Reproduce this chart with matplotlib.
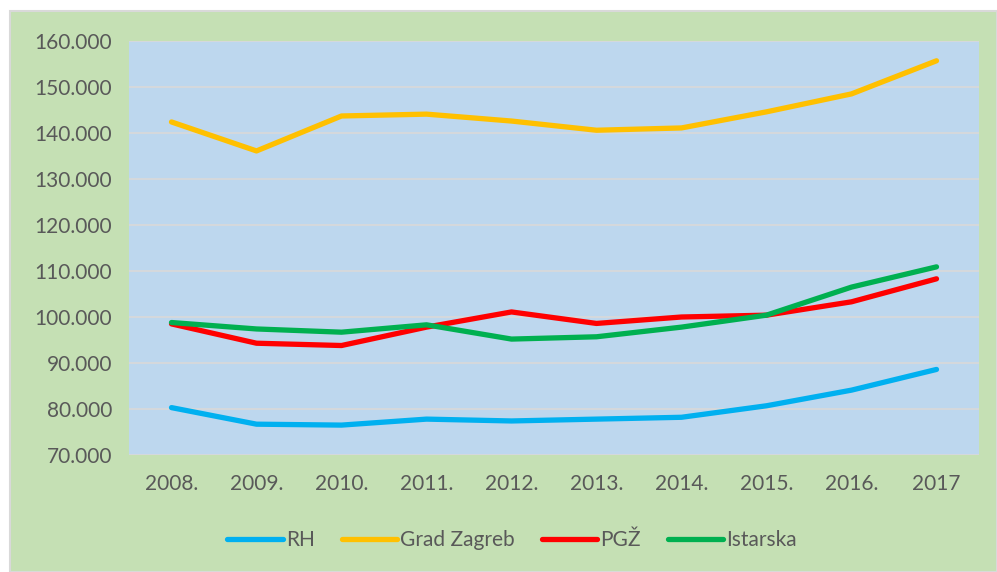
import numpy as np
import matplotlib.pyplot as plt
from matplotlib.patches import Rectangle

years = ['2008.', '2009.', '2010.', '2011.', '2012.', '2013.', '2014.', '2015.', '2016.', '2017']
rh = [80300, 76700, 76500, 77800, 77400, 77800, 78200, 80700, 84100, 88600]
zagreb = [142400, 136100, 143700, 144100, 142600, 140600, 141100, 144600, 148500, 155700]
pgz = [98500, 94300, 93800, 97800, 101100, 98600, 100000, 100400, 103300, 108300]
istarska = [98800, 97400, 96700, 98300, 95200, 95700, 97800, 100400, 106500, 110900]
yticks = [70000, 80000, 90000, 100000, 110000, 120000, 130000, 140000, 150000, 160000]

plt.rcParams['font.family'] = ['Lato', 'DejaVu Sans']

fig = plt.figure(figsize=(9.97, 5.72), dpi=100)
fig.patches.append(Rectangle((10/997, 0), 1 - 10/997, 1 - 11/572, transform=fig.transFigure,
                             facecolor='#C5E0B4', edgecolor='#D9D9D9', linewidth=1.5, zorder=-5))

ax = fig.add_axes([129/997, 1 - 455/572, 850/997, 414/572])
ax.set_zorder(2)
ax.set_facecolor('#BDD7EE')

x = np.arange(len(years))
ax.plot(x, rh, color='#00B0F0', lw=3.8, label='RH', solid_capstyle='round')
ax.plot(x, zagreb, color='#FFC000', lw=3.8, label='Grad Zagreb', solid_capstyle='round')
ax.plot(x, pgz, color='#FF0000', lw=3.8, label='PGŽ', solid_capstyle='round')
ax.plot(x, istarska, color='#00B050', lw=3.8, label='Istarska', solid_capstyle='round')

ax.set_xlim(-0.5, len(years) - 0.5)
ax.set_ylim(70000, 160000)
ax.set_yticks(yticks)
ax.set_yticklabels(['{:,}'.format(v).replace(',', '.') for v in yticks])
ax.set_xticks(x)
ax.set_xticklabels(years)
ax.tick_params(length=0, labelsize=15, colors='#595959')
ax.tick_params(axis='x', pad=14)
ax.tick_params(axis='y', pad=12)
ax.grid(axis='y', color='#D9D9D9', lw=1.2)
ax.set_axisbelow(True)
for s in ax.spines.values():
    s.set_visible(False)

leg = fig.legend(loc='center', bbox_to_anchor=(512/997, 1 - 540/572), ncol=4, frameon=False,
                 fontsize=15, handlelength=2.65, handletextpad=0.15, columnspacing=1.3)
leg.set_zorder(3)
for t in leg.get_texts():
    t.set_color('#595959')

fig.savefig('out.png', dpi=100, facecolor='white')
